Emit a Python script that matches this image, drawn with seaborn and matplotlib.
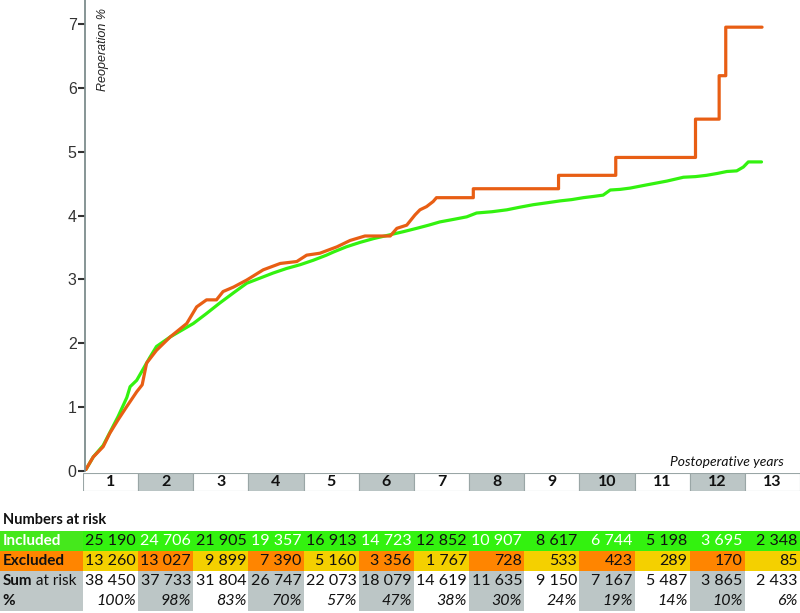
import numpy as np
import pandas as pd
import seaborn as sns
import matplotlib.pyplot as plt

# Numbers at risk per postoperative year
years = list(range(1, 14))
included_risk = [25190, 24706, 21905, 19357, 16913, 14723, 12852, 10907, 8617, 6744, 5198, 3695, 2348]
excluded_risk = [13260, 13027, 9899, 7390, 5160, 3356, 1767, 728, 533, 423, 289, 170, 85]
sum_risk = [38450, 37733, 31804, 26747, 22073, 18079, 14619, 11635, 9150, 7167, 5487, 3865, 2433]
pct_risk = [100, 98, 83, 70, 57, 47, 38, 30, 24, 19, 14, 10, 6]

# Cumulative reoperation (%)
incl_t = [0.0, 0.15, 0.33, 0.45, 0.60, 0.76, 0.82, 0.94, 1.06, 1.18, 1.30, 1.55, 1.75, 1.97, 2.20,
          2.45, 2.70, 2.94, 3.18, 3.42, 3.66, 3.91, 4.15, 4.39, 4.52, 4.75, 5.0, 5.25, 5.55, 5.80,
          6.03, 6.25, 6.45, 6.70, 6.94, 7.12, 7.40, 7.67, 7.90, 8.15, 8.40, 8.64, 8.85, 9.06, 9.25,
          9.42, 9.55, 9.73, 9.91, 10.21, 10.58, 10.88, 11.10, 11.30, 11.50, 11.67, 11.85, 11.97,
          12.06, 12.30]
incl_y = [0.0, 0.22, 0.40, 0.60, 0.85, 1.15, 1.32, 1.42, 1.60, 1.78, 1.95, 2.10, 2.20, 2.31, 2.46,
          2.63, 2.79, 2.94, 3.02, 3.10, 3.17, 3.23, 3.30, 3.38, 3.43, 3.51, 3.58, 3.64, 3.70, 3.75,
          3.80, 3.85, 3.90, 3.94, 3.98, 4.04, 4.06, 4.09, 4.13, 4.17, 4.20, 4.23, 4.25, 4.28, 4.30,
          4.32, 4.40, 4.41, 4.43, 4.48, 4.54, 4.60, 4.61, 4.63, 4.66, 4.69, 4.70, 4.76,
          4.84, 4.84]
excl_t = [0.0, 0.15, 0.33, 0.45, 0.60, 0.76, 0.94, 1.04, 1.12, 1.30, 1.55, 1.85, 2.03, 2.21, 2.39,
          2.51, 2.70, 2.94, 3.24, 3.55, 3.85, 4.03, 4.27, 4.58, 4.82, 5.09, 5.55, 5.67, 5.85, 6.00,
          6.09, 6.21, 6.33, 6.39, 7.06, 7.06, 8.61, 8.61, 9.65, 9.65, 11.10, 11.10, 11.53, 11.53,
          11.65, 11.65, 12.31]
excl_y = [0.0, 0.22, 0.38, 0.59, 0.80, 1.01, 1.24, 1.35, 1.69, 1.89, 2.10, 2.31, 2.57, 2.68, 2.68,
          2.81, 2.88, 2.99, 3.15, 3.25, 3.28, 3.38, 3.41, 3.51, 3.61, 3.68, 3.68, 3.80, 3.85, 4.01,
          4.09, 4.14, 4.22, 4.28, 4.28, 4.42, 4.42, 4.63, 4.63, 4.91, 4.91, 5.51, 5.51, 6.19,
          6.19, 6.95, 6.95]

sns.set_theme(style='white')
plt.rcParams['font.family'] = ['Lato', 'DejaVu Sans']

W, H = 800, 613
fig = plt.figure(figsize=(W / 100, H / 100), dpi=100)


def px_axes(left, top, right, bottom):
    return fig.add_axes([left / W, 1 - bottom / H, (right - left) / W, (bottom - top) / H])


green = '#33f20f'
orange = '#e85e14'

# Main curve panel
ax = px_axes(85, 0, 800, 471)
df = pd.concat([
    pd.DataFrame({'t': incl_t, 'y': incl_y, 'group': 'Included'}),
    pd.DataFrame({'t': excl_t, 'y': excl_y, 'group': 'Excluded'}),
])
sns.lineplot(data=df, x='t', y='y', hue='group', palette={'Included': green, 'Excluded': orange},
             estimator=None, sort=False, lw=2.3, legend=False, ax=ax)
ax.set_xlim(0, 13)
ax.set_ylim(0, 471 / 63.86)
ax.set_yticks(range(8))
ax.set_yticklabels([str(i) for i in range(8)], family='Liberation Sans', fontsize=11.5, color='#333333')
ax.set_xticks([])
ax.set_xlabel('')
ax.set_ylabel('')
for s in ['top', 'right', 'bottom']:
    ax.spines[s].set_visible(False)
ax.spines['left'].set_color('#7d8c8c')
ax.spines['left'].set_linewidth(1.3)
ax.tick_params(axis='y', left=True, length=5, width=1.5, color='#333333', pad=1)
ax.text(0.33, 7.25, 'Reoperation %', rotation=90, style='italic', fontsize=9,
        family='Liberation Sans', color='#222222', ha='center', va='top')
ax.text(12.7, 0.14, 'Postoperative years', style='italic', fontsize=10,
        color='#111111', ha='right', va='center')

# Year boxes under the axis
axb = px_axes(83, 473, 800, 491)
shade = ['white' if i % 2 == 0 else '#bcc6c6' for i in range(13)]
axb.bar([y - 0.5 for y in years], [1] * 13, width=1, color=shade, edgecolor='#9aa6a6', linewidth=0.8)
for y in years:
    axb.text(y - 0.5, 0.5, str(y), ha='center', va='center', fontsize=11.5, fontweight='bold', color='#111111')
axb.set_xlim(0, 13)
axb.set_ylim(0, 1)
axb.axis('off')

# Numbers at risk table
fig.text(3 / W, 1 - 520 / H, 'Numbers at risk', fontsize=10.5, fontweight='bold', ha='left', va='center',
         color='#111111')
axt = px_axes(0, 531, 800, 611)
lab_w = 83 / 55.15
axt.set_xlim(-lab_w, 13)
axt.set_ylim(4, 0)
axt.axis('off')
centers = [y - 0.5 for y in years]

rows = [
    (included_risk, [green] * 13, '#45e81c', ['#111111' if i % 2 == 0 else 'white' for i in range(13)], 'normal'),
    (excluded_risk, ['#f4d000' if i % 2 == 0 else '#ff8500' for i in range(13)], '#ff8500', ['#111111'] * 13, 'normal'),
    (sum_risk, shade, '#bfc8c8', ['#111111'] * 13, 'normal'),
    (pct_risk, shade, '#bfc8c8', ['#111111'] * 13, 'italic'),
]
for r, (vals, cols, lab_col, tcols, st) in enumerate(rows):
    axt.bar(centers, [1] * 13, width=1, bottom=r, color=cols, linewidth=0)
    axt.bar([-lab_w / 2], [1], width=lab_w, bottom=r, color=lab_col, linewidth=0)
    for c, v, tc in zip(centers, vals, tcols):
        txt = f'{v}%' if r == 3 else f'{v:,}'.replace(',', ' ')
        axt.text(c + 0.46, r + 0.52, txt, ha='right', va='center', fontsize=11.5, color=tc, style=st)

lx = -lab_w + 0.05
axt.text(lx, 0.52, 'Included', ha='left', va='center', fontsize=11, fontweight='bold', color='white')
axt.text(lx, 1.52, 'Excluded', ha='left', va='center', fontsize=11, fontweight='bold', color='#111111')
t_sum = axt.text(lx, 2.52, 'Sum', ha='left', va='center', fontsize=11, fontweight='bold', color='#111111')
axt.annotate(' at risk', xy=(1, 0), xycoords=t_sum, ha='left', va='bottom', fontsize=11, color='#111111')
axt.text(lx, 3.52, '%', ha='left', va='center', fontsize=11, fontweight='bold', color='#111111')

fig.savefig('out.png', dpi=100)
